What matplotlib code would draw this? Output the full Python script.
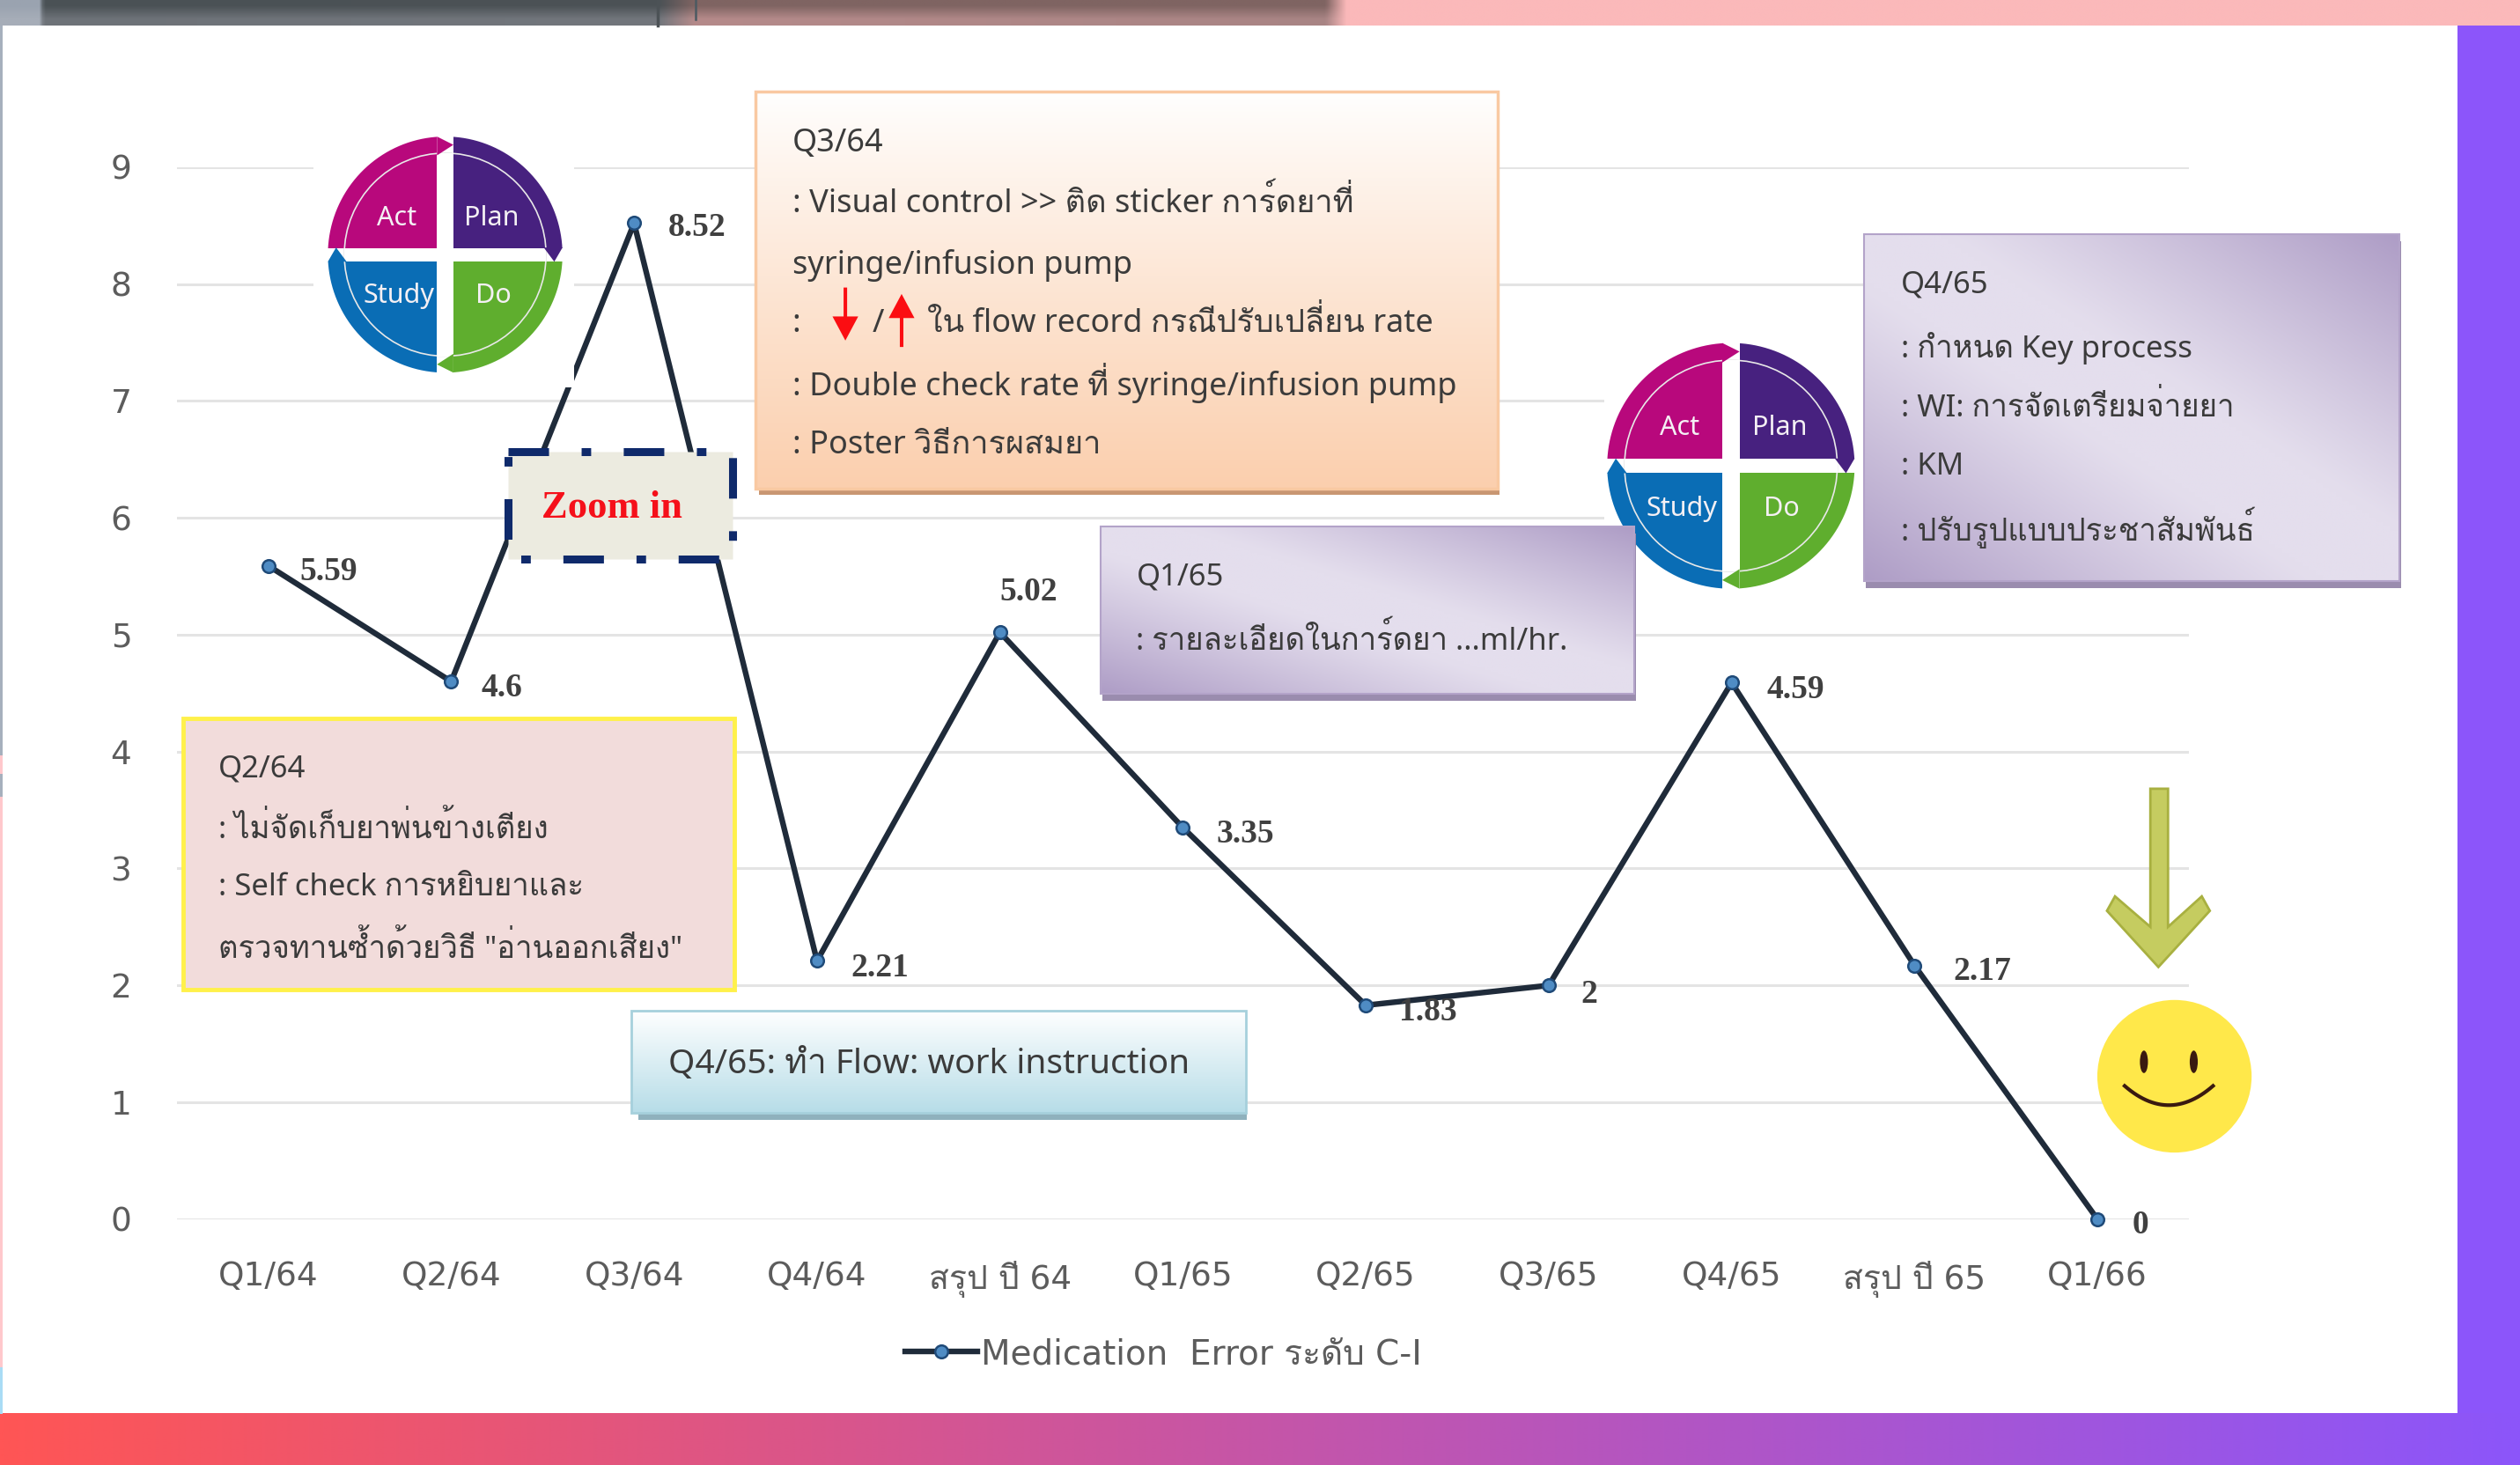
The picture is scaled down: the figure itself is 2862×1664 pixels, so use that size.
#!/usr/bin/env python3
import numpy as np
import matplotlib
matplotlib.use("Agg")
import matplotlib.pyplot as plt
from matplotlib.patches import Rectangle, Polygon, Ellipse, FancyArrow

W, H = 1568.0, 912.0  # layout is measured on a 1568x912 view of the picture

quarters = ["Q1/64", "Q2/64", "Q3/64", "Q4/64", "สรุป ปี 64", "Q1/65",
            "Q2/65", "Q3/65", "Q4/65", "สรุป ปี 65", "Q1/66"]
med_error = [5.59, 4.6, 8.52, 2.21, 5.02, 3.35, 1.83, 2, 4.59, 2.17, 0]
y_ticks = [0, 1, 2, 3, 4, 5, 6, 7, 8, 9]
series_name = "Medication  Error ระดับ C-I"

# pixel offset of each value label from its point (dy is downwards)
label_dx = [69, 58, 71, 71, 33, 71, 71, 46, 73, 77, 49]
label_dy = [7, 7, 5, 8, -46, 7, 8, 10, 8, 7, 7]

note_q364 = [("Q3/64", 88), (": Visual control >> ติด sticker การ์ดยาที่", 125),
             ("syringe/infusion pump", 164),
             (": Double check rate ที่ syringe/infusion pump", 237),
             (": Poster วิธีการผสมยา", 276)]
note_q165 = [("Q1/65", 358), (": รายละเอียดในการ์ดยา ...ml/hr.", 397)]
note_q465 = [("Q4/65", 176), (": กำหนด Key process", 215), (": WI: การจัดเตรียมจ่ายยา", 252),
             (": KM", 289), (": ปรับรูปแบบประชาสัมพันธ์", 327)]
note_q264 = [("Q2/64", 477), (": ไม่จัดเก็บยาพ่นข้างเตียง", 514),
             (": Self check การหยิบยาและ", 551), ('ตรวจทานซ้ำด้วยวิธี "อ่านออกเสียง"', 589)]

SANS = ["Noto Sans", "Loma"]
WIDE = ["DejaVu Sans", "Loma"]
SERIF = "Liberation Serif"
INK = "#3b3b3b"


def gradient(ax, x0, x1, y0, y1, img, z):
    ax.imshow(img, extent=(x0, x1, y1, y0), aspect="auto", zorder=z, interpolation="bilinear")


def lerp(c0, c1, t):
    c0 = np.array(matplotlib.colors.to_rgb(c0))
    c1 = np.array(matplotlib.colors.to_rgb(c1))
    return c0 + (c1 - c0) * np.asarray(t)[..., None]


def text_lines(ax, x, lines, size=25, z=10):
    for s, y in lines:
        ax.text(x, y + 1.5, s, fontsize=size, family=SANS, color=INK, va="center", ha="left", zorder=z)


def purple_box(ax, x0, x1, y0, y1, z=5):
    ax.add_patch(Rectangle((x0 + 1, y0 + 4), x1 - x0, y1 - y0, fc="#9a8cae", ec="none", zorder=z))
    u, v = np.meshgrid(np.linspace(0, 1, 80), np.linspace(0, 1, 80))
    t = np.clip(np.abs(u - v) - 0.15, 0, 1) / 0.85
    gradient(ax, x0, x1, y0, y1, lerp("#e4deed", "#ae9dc6", t ** 1.1), z + 0.1)
    ax.add_patch(Rectangle((x0, y0), x1 - x0, y1 - y0, fc="none", ec="#b3a3c9", lw=1.5, zorder=z + 0.2))


def pdca(ax, cx, cy, rx, ry, z=4):
    ax.add_patch(Ellipse((cx, cy), 2 * rx, 2 * ry, fc="white", ec="none", zorder=z))
    quads = [(90, 180, "#b8087c"), (0, 90, "#47217f"), (180, 270, "#0a6db5"), (270, 360, "#5fae2e")]
    for a0, a1, col in quads:
        a = np.radians(np.linspace(a0, a1, 40))
        px = cx + rx * np.cos(a)
        py = cy - ry * np.sin(a)
        pts = np.column_stack([np.r_[px, cx], np.r_[py, cy]])
        ax.add_patch(Polygon(pts, fc=col, ec="none", zorder=z + 0.1))
    # white cross between the quarters
    ax.add_patch(Rectangle((cx - 0.07 * rx, cy - ry - 1), 0.14 * rx, 2 * ry + 2, fc="white", ec="none", zorder=z + 0.2))
    ax.add_patch(Rectangle((cx - rx - 1, cy - 0.055 * ry), 2 * rx + 2, 0.11 * ry, fc="white", ec="none", zorder=z + 0.2))
    # arrow tips, going round clockwise
    tips = [([cx - 0.07 * rx, cx + 0.07 * rx, cx - 0.07 * rx], [cy - ry, cy - 0.93 * ry, cy - 0.84 * ry], "#b8087c"),
            ([cx + rx, cx + 0.93 * rx, cx + 0.84 * rx], [cy - 0.06 * ry, cy + 0.06 * ry, cy - 0.06 * ry], "#47217f"),
            ([cx + 0.07 * rx, cx - 0.07 * rx, cx + 0.07 * rx], [cy + ry, cy + 0.93 * ry, cy + 0.84 * ry], "#5fae2e"),
            ([cx - rx, cx - 0.93 * rx, cx - 0.84 * rx], [cy + 0.06 * ry, cy - 0.06 * ry, cy + 0.06 * ry], "#0a6db5")]
    for xs, ys, col in tips:
        ax.add_patch(Polygon(np.column_stack([xs, ys]), fc=col, ec="none", zorder=z + 0.3))
    ax.add_patch(Ellipse((cx, cy), 1.72 * rx, 1.72 * ry, fc="none", ec="#e8e8e8", lw=1.2, zorder=z + 0.25))
    ax.add_patch(Rectangle((cx - 0.07 * rx, cy - 0.86 * ry), 0.14 * rx, 1.72 * ry, fc="white", ec="none", zorder=z + 0.26))
    ax.add_patch(Rectangle((cx - 0.86 * rx, cy - 0.055 * ry), 1.72 * rx, 0.11 * ry, fc="white", ec="none", zorder=z + 0.26))
    for s, tx, ty in [("Act", -30, -23), ("Plan", 29, -23), ("Study", -29, 26), ("Do", 30, 26)]:
        ax.text(cx + tx * rx / 73, cy + ty * ry / 74, s, color="#f4f0f4", fontsize=22, family=SANS,
                ha="center", va="center", zorder=z + 0.4)


fig = plt.figure(figsize=(28.62, 16.64), dpi=100, facecolor="white")

# background frame
bg = fig.add_axes([0, 0, 1, 1], zorder=0)
bg.axis("off")
band_x = [0, 24, 26, 410, 432, 825, 838, 1568]
band_top = ["#9aa3b0", "#9aa3b0", "#4a5155", "#4c5256", "#7f6462", "#7f6462", "#fbb9ba", "#fbb9ba"]
band_bottom = ["#a6adb8", "#a6adb8", "#6d7278", "#72767c", "#b58a8a", "#a88484", "#fbb9ba", "#fbb9ba"]
xs = np.linspace(0, W, 800)
top_rgb = np.array([matplotlib.colors.to_rgb(c) for c in band_top])
bot_rgb = np.array([matplotlib.colors.to_rgb(c) for c in band_bottom])
band = np.zeros((2, 800, 3))
for ch in range(3):
    band[0, :, ch] = np.interp(xs, band_x, top_rgb[:, ch])
    band[1, :, ch] = np.interp(xs, band_x, bot_rgb[:, ch])
gradient(bg, 0, W, 0, 16, band, 1)
bg.plot([409, 409], [0, 16], color="#4c5256", lw=2.5, zorder=2)
bg.plot([433, 433], [0, 12], color="#4c5a62", lw=1.8, zorder=2)
bg.add_patch(Rectangle((1529, 16), W - 1529, 880 - 16, fc="#8c55fa", ec="none", zorder=1))
bottom = lerp("#ff5555", "#8c55fa", np.linspace(0, 1, 400)[None, :])
gradient(bg, 0, W, 880, H, bottom, 1)
for y0, y1, col in [(16, 470, "#a6b0bd"), (470, 482, "#ffc8cc"), (482, 496, "#a6b0bd"),
                    (496, 851, "#ffc8cc"), (851, 880, "#a9dcf5")]:
    bg.add_patch(Rectangle((0, y0), 1.5, y1 - y0, fc=col, ec="none", zorder=1))
bg.set_xlim(0, W)
bg.set_ylim(H, 0)

# the chart itself
ax = fig.add_axes([110 / W, 1 - 759 / H, (1362 - 110) / W, (759 - 104) / H], zorder=1)
ax.patch.set_visible(False)
x = np.arange(len(quarters))
line, = ax.plot(x, med_error, color="#1f2b3a", lw=4.6, marker="o", ms=10.5, mfc="#4f8cc4", mec="#1f4a78",
                mew=1.8, label=series_name, zorder=3, clip_on=False)
ax.set_xlim(-0.5, len(quarters) - 0.5)
ax.set_ylim(0, 9)
ax.set_yticks(y_ticks)
ax.set_xticks(x, quarters)
ax.tick_params(length=0, labelsize=27, labelcolor="#5c5c5c")
ax.tick_params(axis="x", pad=34)
ax.tick_params(axis="y", pad=37)
for lab in ax.get_xticklabels() + ax.get_yticklabels():
    lab.set_family(WIDE)
ax.grid(axis="y", color="#e4e4e4", lw=2.2)
ax.set_axisbelow(True)
for s in ax.spines.values():
    s.set_visible(False)
for xi, v, dx, dy in zip(x, med_error, label_dx, label_dy):
    ax.annotate(f"{v:g}", (xi, v), xytext=(dx, -dy), textcoords="offset pixels", family=SERIF, weight="bold",
                fontsize=27, color="#404040", ha="center", va="center", zorder=4)
leg = fig.legend(handles=[line], loc="center", bbox_to_anchor=(724 / W, 1 - 843 / H), frameon=False,
                 handlelength=2.1, handletextpad=0.1, prop={"family": WIDE, "size": 28}, labelcolor="#5c5c5c")

# call-outs drawn over the chart
ov = fig.add_axes([0, 0, 1, 1], zorder=2)
ov.axis("off")

# white squares of the two PDCA pictures hide the grid lines
ov.add_patch(Rectangle((195, 80), 162, 161, fc="white", ec="none", zorder=2))
ov.add_patch(Rectangle((998, 205), 162, 163, fc="white", ec="none", zorder=2))
pdca(ov, 277, 158.5, 73, 73.5)
pdca(ov, 1077, 290, 77, 76.5)

# Q3/64 orange box
ov.add_patch(Rectangle((472, 60), 461, 248, fc="#c89672", ec="none", zorder=5))
gradient(ov, 470, 932, 57, 304, lerp("#ffffff", "#fbcfae", np.linspace(0, 1, 100)[:, None] ** 0.9), 5.1)
ov.add_patch(Rectangle((470, 57), 462, 247, fc="none", ec="#f9c9a2", lw=2.5, zorder=5.2))
text_lines(ov, 493, note_q364, size=26)
ov.text(493, 201.5, ":", fontsize=26, family=SANS, color=INK, va="center", zorder=10)
ov.text(543, 201.5, "/", fontsize=26, family=SANS, color=INK, va="center", zorder=10)
ov.text(577, 201.5, "ใน flow record กรณีปรับเปลี่ยน rate", fontsize=26, family=SANS, color=INK, va="center", zorder=10)
ov.add_patch(FancyArrow(526, 179, 0, 33, width=2.2, head_width=16, head_length=15, length_includes_head=True,
                        fc="#fb0d12", ec="none", zorder=10))
ov.add_patch(FancyArrow(561, 216, 0, -33, width=2.2, head_width=16, head_length=15, length_includes_head=True,
                        fc="#fb0d12", ec="none", zorder=10))

# Q1/65 and Q4/65 purple boxes
purple_box(ov, 685, 1017, 328, 432, z=6)
text_lines(ov, 707, note_q165)
purple_box(ov, 1160, 1493, 146, 362, z=6)
text_lines(ov, 1183, note_q465)

# Q2/64 box
ov.add_patch(Rectangle((114, 447), 343, 169, fc="#f2dcdb", ec="#fff14a", lw=3.5, zorder=5))
text_lines(ov, 136, note_q264)

# blue box
ov.add_patch(Rectangle((397, 633), 379, 64, fc="#8fb1bd", ec="none", zorder=5))
gradient(ov, 393, 775, 629, 693, lerp("#ffffff", "#b7dde8", np.linspace(0, 1, 100)[:, None]), 5.1)
ov.add_patch(Rectangle((393, 629), 382, 64, fc="none", ec="#a6d0dc", lw=2, zorder=5.2))
ov.text(416, 662.5, "Q4/65: ทำ Flow: work instruction", fontsize=28, family=SANS, color=INK, va="center", zorder=10)

# zoom box
ov.add_patch(Rectangle((316, 281), 140, 67, fc="#ecebe0", ec="#0f2a6b", lw=6.5,
                       ls=(0, (5.1, 4.1, 1.2, 4.1)), zorder=7))
ov.text(381, 316, "Zoom in", family=SERIF, weight="bold", fontsize=32, color="#f5101a", ha="center", va="center",
        zorder=10)

# green arrow pointing down at the last value
arrow_xy = np.array([(1338, 491), (1349, 491), (1349, 577), (1370, 558), (1375, 567), (1343, 602),
                     (1311, 567), (1316, 558), (1338, 577)])
ov.add_patch(Polygon(arrow_xy, fc="#c5cc60", ec="#a8b040", lw=2, zorder=8))

# smiley
ov.add_patch(Ellipse((1353, 670), 96, 95, fc="#ffe84a", ec="none", zorder=8))
for ex in (1334, 1365):
    ov.add_patch(Ellipse((ex, 661), 5, 14, fc="#3a1a10", ec="none", zorder=9))
t = np.linspace(-1, 1, 30)
ov.plot(1349.5 + 27.5 * t, 688 - 12 * t ** 2, color="#3a1a10", lw=3, zorder=9)

ov.set_xlim(0, W)
ov.set_ylim(H, 0)

fig.savefig("out.png", dpi=100)
